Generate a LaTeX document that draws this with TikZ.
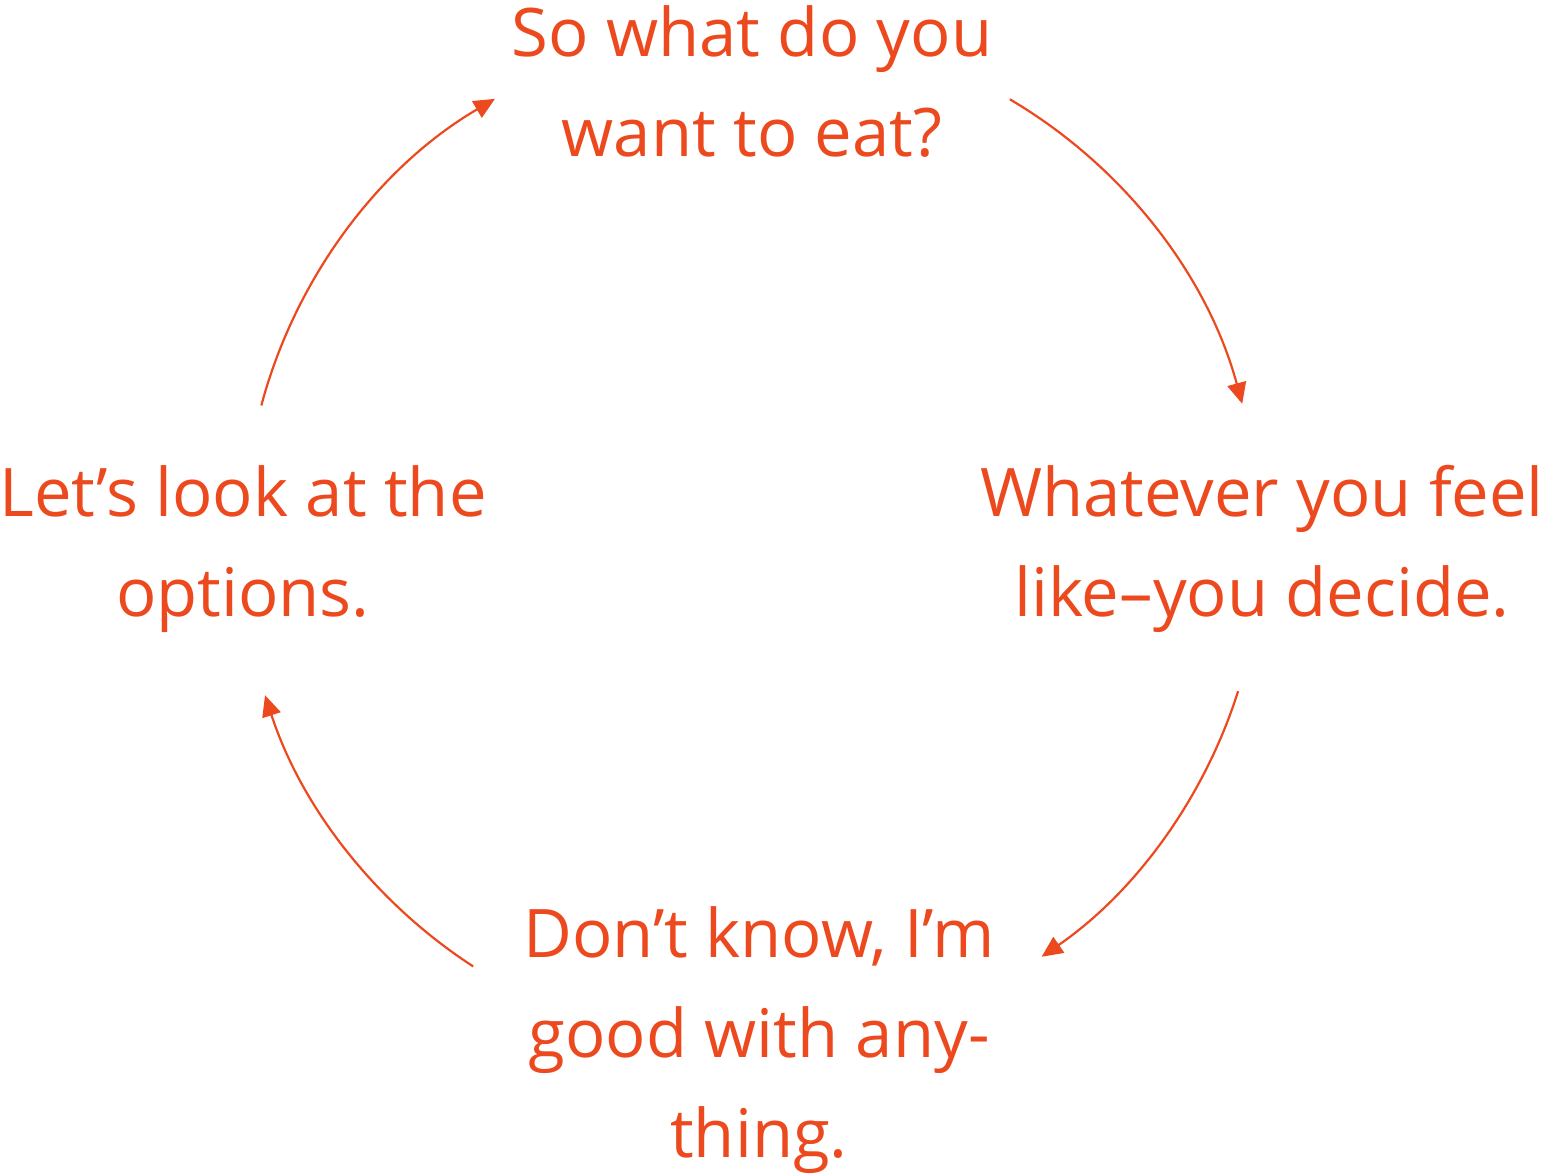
\documentclass[tikz,border=0pt]{standalone}
\usepackage{fontspec}
\setmainfont{Open Sans}
\usetikzlibrary{arrows.meta,calc}
\definecolor{cyc}{RGB}{236,73,30}
\begin{document}
\begin{tikzpicture}[x=1pt,y=1pt,
  lbl/.style={text=cyc,align=center,inner sep=0pt,anchor=base,
    font=\fontsize{67}{100}\selectfont},
  arr/.style={draw=cyc,line width=2.2pt,-{Triangle[length=21pt,width=19pt]}}]
\useasboundingbox (0,0) rectangle (1560,1175);
\node[lbl] (top) at (752,1018) {So what do you\\want to eat?};
\node[lbl] (right) at (1262,558) {Whatever you feel\\like–you decide.};
\node[lbl] (bottom) at (759,18) {Don’t know, I’m\\good with any-\\thing.};
\node[lbl] (left) at (243,558) {Let’s look at the\\options.};
\coordinate (c) at (752,638);
\coordinate (s1) at ($(c)+(59.5:508)$);
\coordinate (s2) at ($(c)+(-17.6:510)$);
\coordinate (s3) at ($(c)+(237:512)$);
\coordinate (s4) at ($(c)+(165:508)$);
\draw[arr] (s1) arc[start angle=59.5,end angle=15.2,radius=508];
\draw[arr] (s2) arc[start angle=-17.6,end angle=-55.4,radius=510];
\draw[arr] (s3) arc[start angle=237,end angle=198,radius=512];
\draw[arr] (s4) arc[start angle=165,end angle=120.4,radius=508];
\end{tikzpicture}
\end{document}
